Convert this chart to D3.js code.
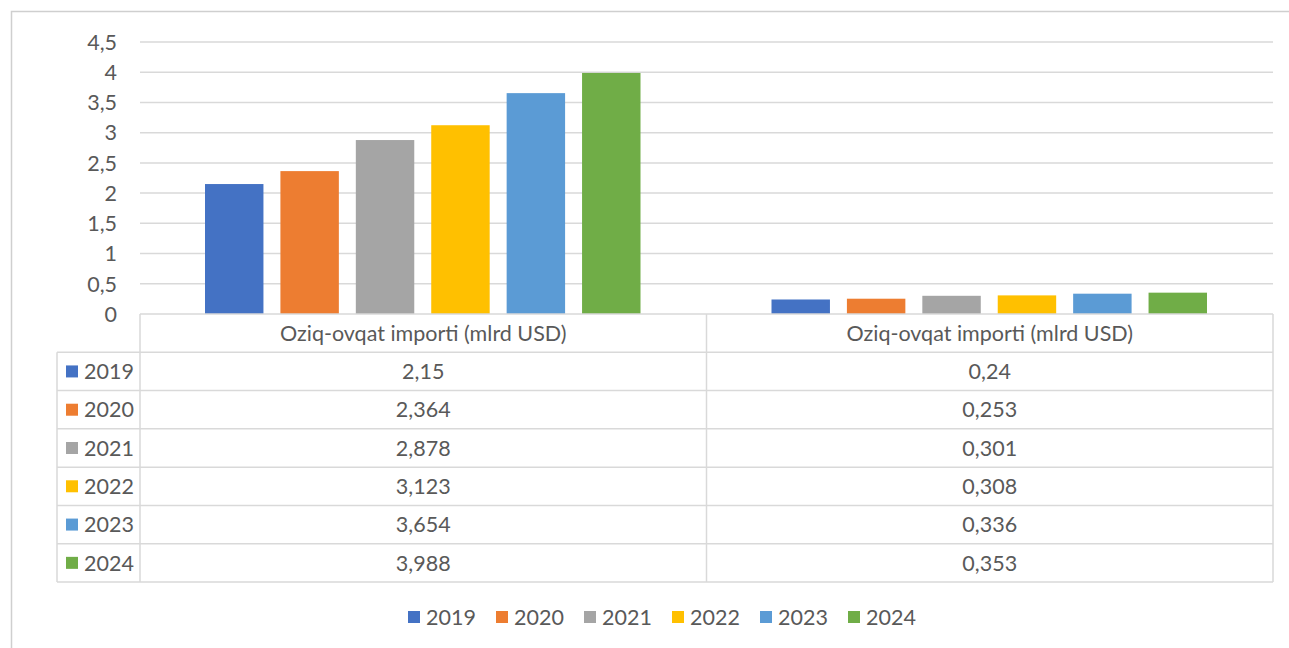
<!DOCTYPE html>
<html><head><meta charset="utf-8">
<script src="https://cdn.jsdelivr.net/npm/d3@7"></script>
<style>body{margin:0;background:#fff;}svg{display:block;font-family:Lato, "Open Sans", sans-serif;}</style>
</head><body><svg id="c" width="1289" height="648"></svg>
<script>
const categories = ["Oziq-ovqat importi (mlrd USD)", "Oziq-ovqat importi (mlrd USD)"];
const years = ["2019","2020","2021","2022","2023","2024"];
const v2019 = [2.15, 0.24];
const v2020 = [2.364, 0.253];
const v2021 = [2.878, 0.301];
const v2022 = [3.123, 0.308];
const v2023 = [3.654, 0.336];
const v2024 = [3.988, 0.353];
const yTicks = [0,0.5,1,1.5,2,2.5,3,3.5,4,4.5];
const colors = ["#4472C4","#ED7D31","#A5A5A5","#FFC000","#5B9BD5","#70AD47"];
const series = [v2019,v2020,v2021,v2022,v2023,v2024];
const fmt = v => String(v).replace(".", ",");

const svg = d3.select("#c");
const txt = "#595959", grid = "#d9d9d9", fs = 21.5;
// outer frame
svg.append("path").attr("d","M11.5,648 V11.5 H1289").attr("fill","none").attr("stroke","#cfcfcf").attr("stroke-width",1.5);

const pL = 140, pR = 1273, pT = 42, pB = 314;
const y = d3.scaleLinear().domain([0,4.5]).range([pB, pT]);
const x0 = d3.scaleBand().domain(d3.range(categories.length)).range([pL,pR]).paddingInner(0).paddingOuter(0);
const x1 = d3.scaleBand().domain(years).range([65, x0.bandwidth()-66]).paddingInner(0.225).paddingOuter(0);

// gridlines
svg.append("g").selectAll("line").data(yTicks.filter(t=>t>0)).join("line")
  .attr("x1",pL).attr("x2",pR).attr("y1",d=>y(d)).attr("y2",d=>y(d))
  .attr("stroke",grid).attr("stroke-width",1.5);
// y labels
svg.append("g").selectAll("text").data(yTicks).join("text")
  .attr("x",117).attr("y",d=>y(d)).attr("dy","0.36em").attr("text-anchor","end")
  .attr("fill",txt).attr("font-size",fs).text(d=>fmt(d));

// bars
const g = svg.append("g");
years.forEach((yr,i)=>{
  g.append("g").selectAll("rect").data(series[i]).join("rect")
   .attr("x",(d,j)=>x0(j)+x1(yr)).attr("width",x1.bandwidth())
   .attr("y",d=>y(d)).attr("height",d=>pB-y(d)).attr("fill",colors[i]);
});

// data table
const rowH = (582-314)/7;
const legL = 57;
const tl = svg.append("g").attr("stroke",grid).attr("stroke-width",1.5).attr("fill","none");
tl.append("line").attr("x1",pL).attr("x2",pR).attr("y1",pB).attr("y2",pB);
for(let r=1;r<=7;r++){
  tl.append("line").attr("x1",legL).attr("x2",pR).attr("y1",pB+r*rowH).attr("y2",pB+r*rowH);
}
tl.append("line").attr("x1",legL).attr("x2",legL).attr("y1",pB+rowH).attr("y2",pB+7*rowH);
[pL, x0(1), pR].forEach(xx=>{
  tl.append("line").attr("x1",xx).attr("x2",xx).attr("y1",pB).attr("y2",pB+7*rowH);
});
svg.append("g").selectAll("text").data(categories).join("text")
  .attr("x",(d,j)=>x0(j)+x0.bandwidth()/2).attr("y",pB+rowH/2).attr("dy","0.36em")
  .attr("text-anchor","middle").attr("fill",txt).attr("font-size",fs).text(d=>d);
years.forEach((yr,i)=>{
  const cy = pB+(i+1)*rowH+rowH/2;
  svg.append("rect").attr("x",66).attr("y",cy-6).attr("width",12).attr("height",12).attr("fill",colors[i]);
  svg.append("text").attr("x",84).attr("y",cy).attr("dy","0.36em").attr("fill",txt).attr("font-size",fs).text(yr);
  series[i].forEach((v,j)=>{
    svg.append("text").attr("x",x0(j)+x0.bandwidth()/2).attr("y",cy).attr("dy","0.36em")
      .attr("text-anchor","middle").attr("fill",txt).attr("font-size",fs).text(fmt(v));
  });
});

// legend
const lg = svg.append("g").attr("transform","translate(408,617)");
years.forEach((yr,i)=>{
  const gx = i*88;
  lg.append("rect").attr("x",gx).attr("y",-6).attr("width",12).attr("height",12).attr("fill",colors[i]);
  lg.append("text").attr("x",gx+18).attr("y",0).attr("dy","0.36em").attr("fill",txt).attr("font-size",fs).text(yr);
});
</script></body></html>
